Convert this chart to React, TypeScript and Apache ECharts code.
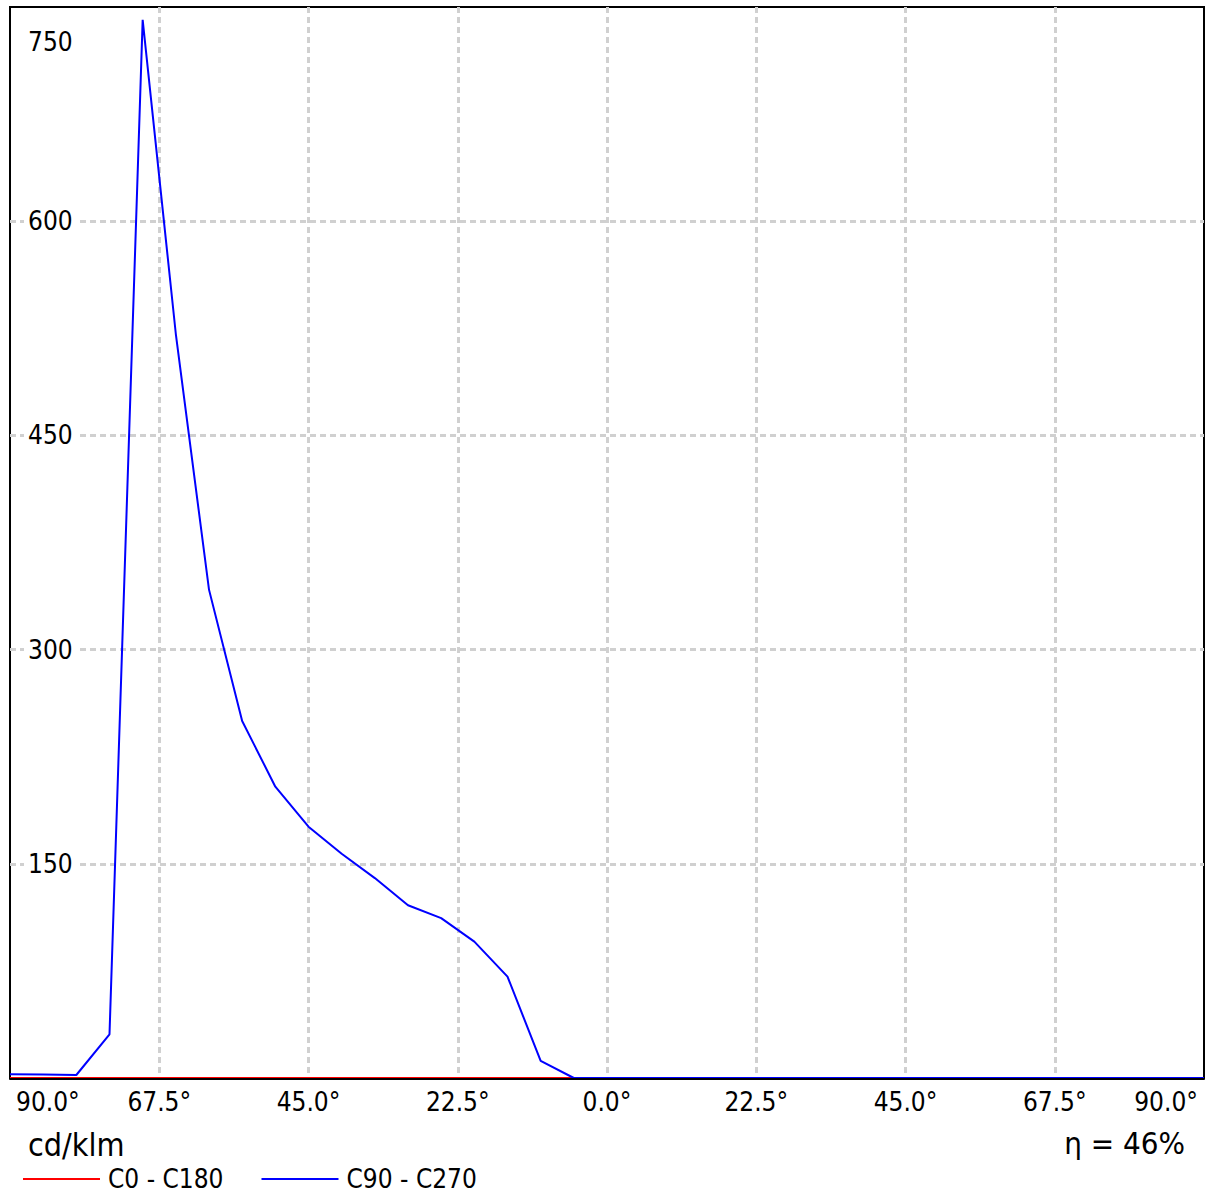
import React, { useEffect, useRef } from "react";
import * as echarts from "echarts";

// Gamma angles (°), C-plane curves in cd/klm
const angles = [
  -90, -85, -80, -75, -70, -65, -60, -55, -50, -45, -40, -35, -30, -25, -20, -15, -10, -5,
  0, 5, 10, 15, 20, 25, 30, 35, 40, 45, 50, 55, 60, 65, 70, 75, 80, 85, 90,
];
const c0c180 = [
  0, 0, 0, 0, 0, 0, 0, 0, 0, 0, 0, 0, 0, 0, 0, 0, 0, 0,
  0, 0, 0, 0, 0, 0, 0, 0, 0, 0, 0, 0, 0, 0, 0, 0, 0, 0, 0,
];
const c90c270 = [
  2.6, 2.5, 2.1, 30.6, 741, 521, 342, 250, 204, 176, 157, 140, 121, 112, 95.5, 71, 12, 0,
  0, 0, 0, 0, 0, 0, 0, 0, 0, 0, 0, 0, 0, 0, 0, 0, 0, 0, 0,
];
const seriesNames = ["C0 - C180", "C90 - C270"];
const seriesColors = ["#ff0000", "#0000ff"];
const yMax = 750;
const yStep = 150;
const xStep = 22.5;
const unitLabel = "cd/klm";
const efficiencyLabel = "η = 46%";

const FONT = '"DejaVu Sans Condensed", "Noto Sans", sans-serif';

export default function App() {
  const ref = useRef<HTMLDivElement>(null);
  useEffect(() => {
    if (!ref.current) return;
    const chart = echarts.init(ref.current, undefined, { renderer: "svg" });
    const grid = "#d0d0d0";
    const dashed = { color: grid, width: 3, type: [6, 4] };
    chart.setOption({
      animation: false,
      backgroundColor: "#fff",
      textStyle: { fontFamily: FONT },
      grid: {
        left: 10,
        right: 2,
        top: 7,
        bottom: 119,
        show: true,
        borderColor: "#000",
        borderWidth: 2,
      },
      legend: {
        left: 23,
        top: 1164,
        padding: 0,
        icon: "rect",
        itemWidth: 77,
        itemHeight: 2,
        itemGap: 38,
        data: seriesNames,
        textStyle: {
          fontFamily: FONT,
          fontSize: 26,
          color: "#000",
          lineHeight: 30,
          padding: [0, 0, 0, 3],
        },
      },
      xAxis: [
        {
          type: "value",
          min: -90,
          max: 90,
          interval: xStep,
          axisLine: { show: false },
          axisTick: { show: false },
          splitLine: { show: true, showMinLine: false, showMaxLine: false, lineStyle: dashed },
          axisLabel: {
            fontFamily: FONT,
            fontSize: 26,
            color: "#000",
            margin: 11,
            padding: [0, 6, 0, 6],
            alignMinLabel: "left",
            alignMaxLabel: "right",
            formatter: (v: number) => Math.abs(v).toFixed(1) + "°",
          },
        },
        {
          type: "value",
          position: "bottom",
          min: -90,
          max: 90,
          offset: 1,
          z: 5,
          axisLine: { show: true, onZero: false, lineStyle: { color: "#000", width: 2 } },
          axisTick: { show: false },
          axisLabel: { show: false },
          splitLine: { show: false },
        },
      ],
      yAxis: {
        type: "value",
        min: 0,
        max: yMax,
        interval: yStep,
        axisLine: { show: false },
        axisTick: { show: false },
        splitLine: { show: true, showMinLine: false, showMaxLine: false, lineStyle: dashed },
        axisLabel: {
          inside: true,
          showMinLabel: false,
          showMaxLabel: false,
          fontFamily: FONT,
          fontSize: 26,
          color: "#000",
          margin: 14,
          padding: [0, 4, 0, 4],
          backgroundColor: "#fff",
        },
      },
      series: [
        {
          name: seriesNames[0],
          type: "line",
          symbol: "none",
          color: seriesColors[0],
          lineStyle: { color: seriesColors[0], width: 2 },
          data: angles.map((a, i) => [a, c0c180[i]]),
        },
        {
          name: seriesNames[1],
          type: "line",
          symbol: "none",
          color: seriesColors[1],
          lineStyle: { color: seriesColors[1], width: 2 },
          data: angles.map((a, i) => [a, c90c270[i]]),
        },
      ],
    });
    const top = chart.convertToPixel({ gridIndex: 0 }, [-90, yMax]) as number[];
    chart.setOption({
      graphic: [
        {
          id: "ymax",
          type: "text",
          x: top[0] + 18,
          y: top[1] + 35,
          style: {
            text: String(yMax),
            fontFamily: FONT,
            fontSize: 26,
            fill: "#000",
            align: "left",
            verticalAlign: "middle",
          },
        },
        {
          id: "unit",
          type: "text",
          x: 28,
          y: 1145,
          style: {
            text: unitLabel,
            fontFamily: FONT,
            fontSize: 32,
            fill: "#000",
            align: "left",
            verticalAlign: "middle",
          },
        },
        {
          id: "eta",
          type: "text",
          x: 1185,
          y: 1143,
          style: {
            text: efficiencyLabel,
            fontFamily: FONT,
            fontSize: 31,
            fill: "#000",
            align: "right",
            verticalAlign: "middle",
          },
        },
      ],
    });
    return () => chart.dispose();
  }, []);
  return (
    <div
      ref={ref}
      style={{ position: "fixed", left: 0, top: 0, width: 1206, height: 1197 }}
    />
  );
}
